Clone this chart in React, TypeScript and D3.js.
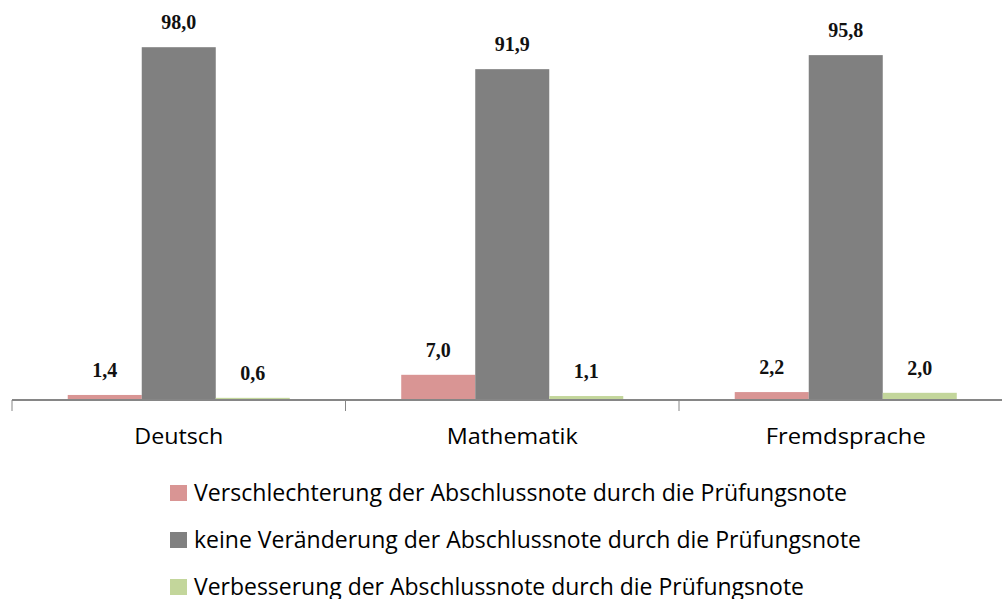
import React, { useEffect, useRef } from "react"
import * as d3 from "d3"

const categories = ["Deutsch", "Mathematik", "Fremdsprache"]
const seriesNames = [
	"Verschlechterung der Abschlussnote durch die Prüfungsnote",
	"keine Veränderung der Abschlussnote durch die Prüfungsnote",
	"Verbesserung der Abschlussnote durch die Prüfungsnote",
]
const verschlechterung = [1.4, 7.0, 2.2]
const keineVeraenderung = [98.0, 91.9, 95.8]
const verbesserung = [0.6, 1.1, 2.0]
const colors = ["#d99594", "#808080", "#c3d69b"]
const categoryWidths = [89, 131, 160]
const legendWidths = [653, 667, 610]

const width = 1002
const height = 599

const App: React.FC = () => {
	const ref = useRef<SVGSVGElement>(null)

	useEffect(() => {
		const svg = d3.select(ref.current)
		svg.selectAll("*").remove()

		const values = [verschlechterung, keineVeraenderung, verbesserung]
		const axisY = 400
		const x0 = d3.scaleBand().domain(categories).range([12, 1012.5])
		const x1 = d3
			.scaleBand()
			.domain(seriesNames)
			.range([0, x0.bandwidth()])
			.paddingInner(0)
			.paddingOuter(0.753)
		const y = d3.scaleLinear().domain([0, 100]).range([axisY, 40])

		const groups = svg
			.selectAll("g.cat")
			.data(categories)
			.join("g")
			.attr("class", "cat")
			.attr("transform", (d) => `translate(${x0(d)},0)`)

		seriesNames.forEach((s, si) => {
			groups
				.append("rect")
				.attr("x", x1(s)!)
				.attr("width", x1.bandwidth())
				.attr("y", (_, i) => y(values[si][i]))
				.attr("height", (_, i) => axisY - y(values[si][i]))
				.attr("fill", colors[si])

			groups
				.append("text")
				.attr("x", x1(s)! + x1.bandwidth() / 2)
				.attr("y", (_, i) => y(values[si][i]) - 18)
				.attr("text-anchor", "middle")
				.attr("font-family", "Liberation Serif")
				.attr("font-weight", "bold")
				.attr("font-size", 20)
				.attr("fill", "#111")
				.text((_, i) => values[si][i].toFixed(1).replace(".", ","))
		})

		// axis
		svg
			.append("line")
			.attr("x1", 12)
			.attr("x2", width)
			.attr("y1", axisY)
			.attr("y2", axisY)
			.attr("stroke", "#868686")
			.attr("stroke-width", 2)

		const tickXs = categories.map((c) => x0(c)!)
		tickXs.push(x0.range()[1])
		svg
			.selectAll("line.tick")
			.data(tickXs)
			.join("line")
			.attr("class", "tick")
			.attr("x1", (d) => d)
			.attr("x2", (d) => d)
			.attr("y1", axisY)
			.attr("y2", axisY + 11)
			.attr("stroke", "#868686")
			.attr("stroke-width", 1)

		svg
			.selectAll("text.cat-label")
			.data(categories)
			.join("text")
			.attr("class", "cat-label")
			.attr("x", (d) => x0(d)! + x0.bandwidth() / 2)
			.attr("y", 444)
			.attr("text-anchor", "middle")
			.attr("font-family", "Open Sans")
			.attr("font-size", 22)
			.attr("textLength", (_, i) => categoryWidths[i])
			.attr("lengthAdjust", "spacingAndGlyphs")
			.attr("fill", "#000")
			.text((d) => d)

		// legend
		const legend = svg
			.selectAll("g.legend")
			.data(seriesNames)
			.join("g")
			.attr("class", "legend")
			.attr("transform", (_, i) => `translate(170,${485 + i * 47})`)

		legend
			.append("rect")
			.attr("width", 17)
			.attr("height", 16)
			.attr("fill", (_, i) => colors[i])

		legend
			.append("text")
			.attr("x", 24)
			.attr("y", 16)
			.attr("font-family", "Open Sans")
			.attr("font-size", 23)
			.attr("textLength", (_, i) => legendWidths[i])
			.attr("lengthAdjust", "spacingAndGlyphs")
			.attr("fill", "#000")
			.text((d) => d)
	}, [])

	return (
		<svg
			ref={ref}
			width={width}
			height={height}
			style={{ position: "absolute", left: 0, top: 0, background: "#fff" }}
		/>
	)
}

export default App
